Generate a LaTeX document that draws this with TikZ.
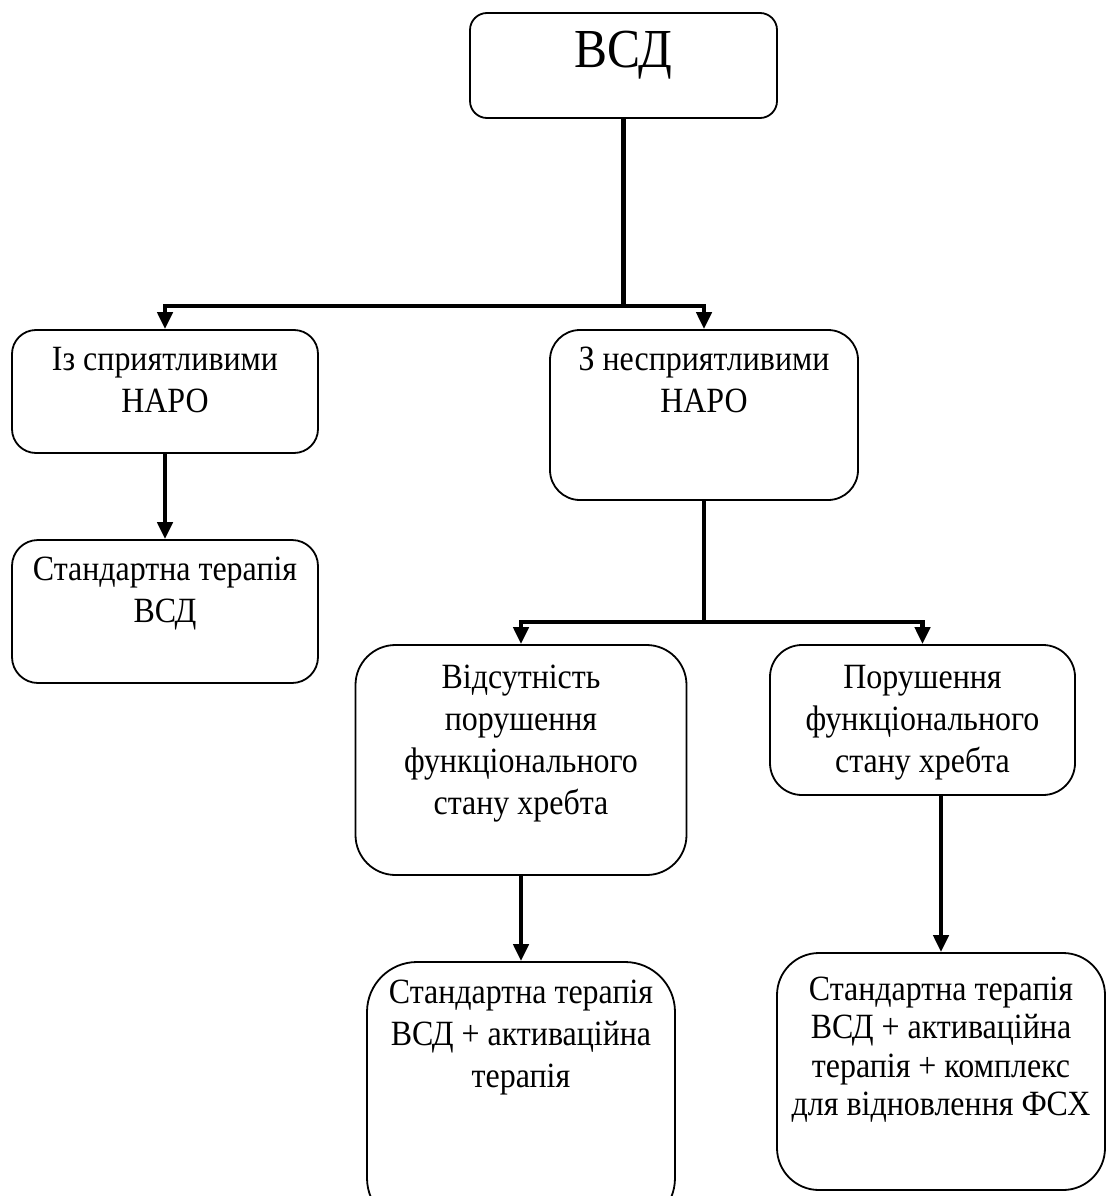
\documentclass[tikz,border=0pt]{standalone}
\usepackage{fontspec}
\setmainfont{Liberation Serif}[FakeStretch=0.9]
\usetikzlibrary{arrows.meta}
\tikzset{
  box/.style={draw, line width=1.8pt, inner sep=0pt, fill=none},
  txt/.style={align=center, inner sep=0pt, anchor=north, font=\fontsize{35.5}{42}\selectfont},
  line/.style={line width=4.5pt},
  arr/.style={line width=4.5pt, -{Triangle[width=15pt,length=17pt]}},
}
\newcommand{\fs}{\rule{0pt}{34pt}}
\begin{document}
\begin{tikzpicture}[x=1pt,y=-1pt]
\useasboundingbox (0,0) rectangle (1109,1196);
\fill[white] (0,0) rectangle (1109,1196);
% boxes
\node[box, rounded corners=17pt, minimum width=307pt, minimum height=105pt] (b0) at (623.5,65.5) {};
\node[box, rounded corners=24pt, minimum width=306pt, minimum height=123pt] (b1) at (165,391.5) {};
\node[box, rounded corners=30pt, minimum width=308pt, minimum height=170pt] (b2) at (704,415) {};
\node[box, rounded corners=26pt, minimum width=306pt, minimum height=143pt] (b3) at (165,611.5) {};
\node[box, rounded corners=40pt, minimum width=331pt, minimum height=230pt] (b4) at (521,760) {};
\node[box, rounded corners=32pt, minimum width=305pt, minimum height=150pt] (b5) at (922.5,720) {};
\node[box, rounded corners=50pt, minimum width=308pt, minimum height=266pt] (b6) at (521,1095) {};
\node[box, rounded corners=42pt, minimum width=328pt, minimum height=237pt] (b7) at (941,1071.5) {};
% texts
\node[anchor=base, inner sep=0pt, font=\fontsize{55}{60}\selectfont] (t0) at (623.5,68) {ВСД};
\node[txt] (t1) at (165,336) {\fs Із сприятливими\\НАРО};
\node[txt] (t2) at (704,336) {\fs З несприятливими\\НАРО};
\node[txt] (t3) at (165,546) {\fs Стандартна терапія\\ВСД};
\node[txt] (t4) at (521,654) {\fs Відсутність\\порушення\\функціонального\\стану хребта};
\node[txt] (t5) at (922.5,654) {\fs Порушення\\функціонального\\стану хребта};
\node[txt] (t6) at (521,969) {\fs Стандартна терапія\\ВСД + активаційна\\терапія};
\node[txt, font=\fontsize{35.5}{38.5}\selectfont] (t7) at (941,966) {\fs Стандартна терапія\\ВСД + активаційна\\терапія + комплекс\\для відновлення ФСХ};
% connectors
\coordinate (j1) at (623.5,306);
\coordinate (j2) at (704,622);
\draw[line] (b0.south) -- (j1);
\draw[arr] ([xshift=2pt]j1) -| (b1.north);
\draw[arr] ([xshift=-2pt]j1) -| (b2.north);
\draw[arr] (b1.south) -- (b3.north);
\draw[line] (b2.south) -- (j2);
\draw[arr] ([xshift=2pt]j2) -| (b4.north);
\draw[arr] ([xshift=-2pt]j2) -| (b5.north);
\draw[arr] (b4.south) -- (b6.north);
\draw[arr] (b5.south -| b7.north) -- (b7.north);
\end{tikzpicture}
\end{document}
